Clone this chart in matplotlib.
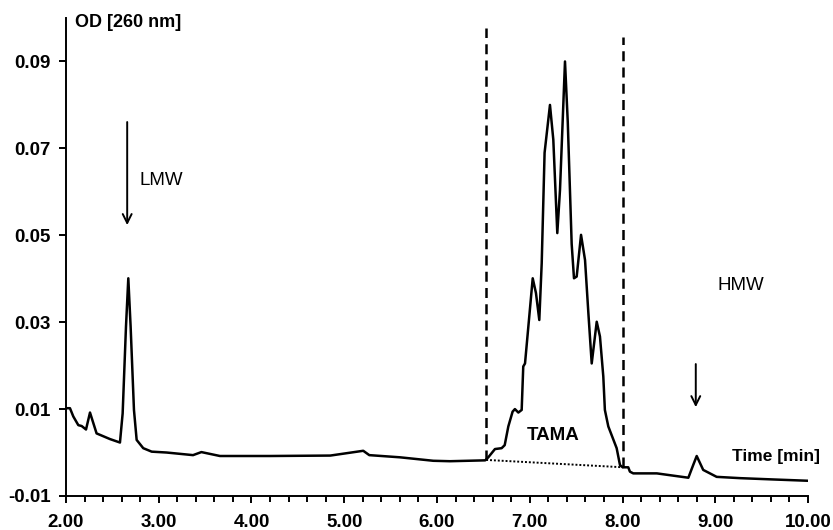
import matplotlib.pyplot as plt
from matplotlib.ticker import MultipleLocator

plt.rcParams['font.family'] = ['Liberation Sans', 'DejaVu Sans']

# chromatogram trace
time_min = [2.00, 2.043, 2.079, 2.133, 2.169, 2.216, 2.259, 2.33, 2.474, 2.582,
            2.611, 2.647, 2.672, 2.697, 2.733, 2.762, 2.833, 2.924, 3.085, 3.37,
            3.46, 3.66, 3.80, 4.20, 4.85, 5.205, 5.27, 5.60, 5.96, 6.14,
            6.52, 6.553, 6.625, 6.697, 6.73, 6.769, 6.815, 6.84, 6.877, 6.913,
            6.93, 6.949, 6.985, 7.032, 7.067, 7.103, 7.129, 7.16, 7.218, 7.254,
            7.297, 7.326, 7.38, 7.41, 7.452, 7.477, 7.506, 7.553, 7.596, 7.632,
            7.668, 7.722, 7.757, 7.793, 7.81, 7.847, 7.937, 7.973, 8.002, 8.062,
            8.08, 8.116, 8.37, 8.71, 8.76, 8.80, 8.87, 9.015, 9.27, 9.626,
            10.00]
od_260 = [0.0102, 0.0102, 0.0083, 0.0063, 0.0061, 0.0053, 0.0092, 0.0044, 0.0031, 0.0023,
          0.0090, 0.0290, 0.0401, 0.0290, 0.0098, 0.0029, 0.0010, 0.0002, -0.0000, -0.0006,
          0.0001, -0.0008, -0.0008, -0.0008, -0.0007, 0.0004, -0.0006, -0.0011, -0.0019, -0.0020,
          -0.0018, -0.0011, 0.0008, 0.0010, 0.0017, 0.0060, 0.0094, 0.0100, 0.0092, 0.0098,
          0.0198, 0.0205, 0.0290, 0.0401, 0.0367, 0.0305, 0.0436, 0.0690, 0.0800, 0.0720,
          0.0505, 0.0604, 0.0900, 0.0760, 0.0480, 0.0401, 0.0405, 0.0501, 0.0443, 0.0321,
          0.0205, 0.0301, 0.0267, 0.0175, 0.0098, 0.0060, 0.0010, -0.0029, -0.0034, -0.0034,
          -0.0044, -0.0048, -0.0048, -0.0058, -0.0030, -0.0008, -0.0040, -0.0056, -0.0059, -0.0062,
          -0.0065]

# integration window and baseline
window_start = 6.53
window_end = 8.01
window_top = [0.0977, 0.0957]
baseline_y = [-0.0017, -0.0034]

tick_positions = [2, 3, 4, 5, 6, 7, 8, 9, 10]
tick_labels = ['2.00', '3.00', '4.00', '5.00', '6.00', '7.00', '8.00', '9.00', '10.00']
ytick_positions = [-0.01, 0.01, 0.03, 0.05, 0.07, 0.09]
ytick_labels = ['-0.01', '0.01', '0.03', '0.05', '0.07', '0.09']

fig = plt.figure(figsize=(8.33, 5.30), dpi=100)
ax = fig.add_axes([0.0792, 0.0642, 0.8908, 0.9018])

ax.plot(time_min, od_260, color='black', linewidth=1.8, solid_joinstyle='round')
ax.plot([window_start, window_start], [baseline_y[0], window_top[0]], color='black',
        linewidth=1.8, linestyle=(0, (4, 2.5)))
ax.plot([window_end, window_end], [baseline_y[1], window_top[1]], color='black',
        linewidth=1.8, linestyle=(0, (4, 2.5)))
ax.plot([window_start, window_end], baseline_y, color='black', linewidth=1.4,
        linestyle=(0, (1, 1)))

# peak markers
ax.annotate('', xy=(2.66, 0.0517), xytext=(2.66, 0.0767),
            arrowprops=dict(arrowstyle='->', color='black', lw=1.4, mutation_scale=16))
ax.annotate('', xy=(8.79, 0.0098), xytext=(8.79, 0.0210),
            arrowprops=dict(arrowstyle='->', color='black', lw=1.4, mutation_scale=16))
ax.text(2.79, 0.0625, 'LMW', fontsize=13.5, va='center', ha='left')
ax.text(9.02, 0.0385, 'HMW', fontsize=13.5, va='center', ha='left')
ax.text(7.25, 0.0040, 'TAMA', fontsize=13.5, fontweight='bold', va='center', ha='center')
ax.text(9.66, -0.0010, 'Time [min]', fontsize=12.5, fontweight='bold', va='center', ha='center')
ax.text(2.10, 0.0990, 'OD [260 nm]', fontsize=13, fontweight='bold', va='center', ha='left')

ax.set_xlim(2, 10)
ax.set_ylim(-0.01, 0.10)
ax.set_xticks(tick_positions)
ax.set_xticklabels(tick_labels, fontsize=13.5, fontweight='bold')
ax.set_yticks(ytick_positions)
ax.set_yticklabels(ytick_labels, fontsize=13.5, fontweight='bold')
ax.xaxis.set_minor_locator(MultipleLocator(0.2))

for side in ['top', 'right']:
    ax.spines[side].set_visible(False)
for side in ['left', 'bottom']:
    ax.spines[side].set_linewidth(1.4)
ax.tick_params(axis='both', which='major', direction='out', length=5, width=1.4, pad=6)
ax.tick_params(axis='x', which='minor', direction='out', length=4, width=1.4)
ax.tick_params(axis='x', which='major', pad=8)

fig.savefig('out.png', dpi=100)
